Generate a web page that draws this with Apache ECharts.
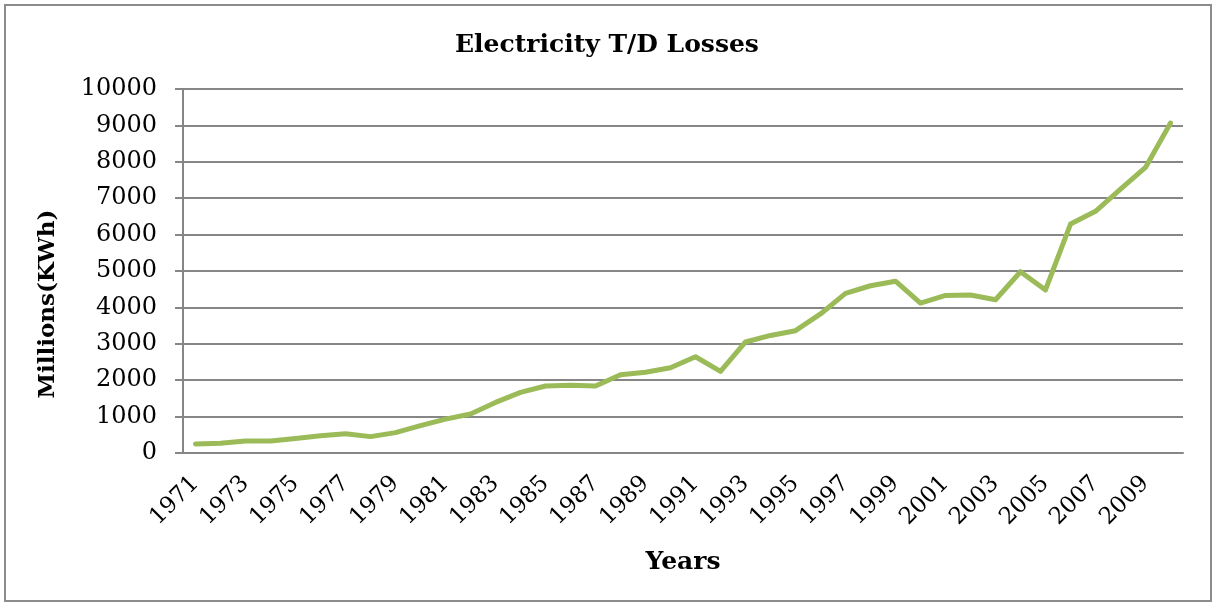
<!DOCTYPE html>
<html>
<head>
<meta charset="utf-8">
<script src="https://cdn.jsdelivr.net/npm/echarts@6/dist/echarts.min.js"></script>
<style>
  html, body { margin: 0; padding: 0; background: #fff; }
  #frame {
    position: absolute; left: 4px; top: 4px;
    width: 1204px; height: 594px;
    border: 2px solid #8c8c8c;
  }
  #losses { position: absolute; left: 0; top: 0; width: 1214px; height: 605px; }
</style>
</head>
<body>
<div id="frame"></div>
<div id="losses"></div>
<script>
  // years on the x axis
  var years = [];
  for (var y = 1971; y <= 2010; y++) years.push(String(y));

  // electricity T/D losses, millions of kWh
  var losses = [
    250, 265, 330, 330, 400, 475, 530, 450, 560, 750,
    930, 1070, 1390, 1665, 1840, 1860, 1840, 2150, 2220, 2340,
    2645, 2240, 3050, 3230, 3360, 3820, 4385, 4595, 4720, 4120,
    4330, 4340, 4210, 4980, 4480, 6290, 6640, 7250, 7845, 9065
  ];

  var serif = 'DejaVu Serif';
  var chart = echarts.init(document.getElementById('losses'));
  var option = {
    backgroundColor: 'transparent',
    animation: false,
    title: {
      text: 'Electricity T/D Losses',
      left: 'center',
      top: 28,
      textStyle: { fontFamily: serif, fontWeight: 'bold', fontSize: 25, color: '#000' }
    },
    // y axis title sits a bit below the plot middle, as in the original
    graphic: [{
      type: 'text',
      x: 48,
      y: 304,
      rotation: Math.PI / 2,
      style: {
        text: 'Millions(KWh)',
        align: 'center',
        verticalAlign: 'middle',
        fontFamily: serif,
        fontWeight: 'bold',
        fontSize: 23,
        fill: '#000'
      }
    }],
    grid: { left: 183, right: 31, top: 89, bottom: 152 },
    xAxis: {
      type: 'category',
      data: years,
      boundaryGap: true,
      name: 'Years',
      nameLocation: 'middle',
      nameGap: 97,
      nameTextStyle: { fontFamily: serif, fontWeight: 'bold', fontSize: 25, color: '#000' },
      axisLine: { lineStyle: { color: '#868686', width: 2 } },
      axisTick: { interval: 0, length: 7, lineStyle: { color: '#868686', width: 2 } },
      axisLabel: {
        interval: 1,
        rotate: 45,
        margin: 27,
        fontFamily: serif,
        fontSize: 23,
        color: '#000'
      }
    },
    yAxis: {
      type: 'value',
      min: 0,
      max: 10000,
      interval: 1000,
      axisLine: { show: true, lineStyle: { color: '#868686', width: 2 } },
      axisTick: { show: true, length: 8, lineStyle: { color: '#868686', width: 2 } },
      axisLabel: {
        margin: 26,
        fontFamily: serif,
        fontSize: 24,
        color: '#000',
        formatter: function (v) { return String(v); }
      },
      splitLine: { lineStyle: { color: '#868686', width: 2 } }
    },
    series: [{
      name: 'Losses',
      type: 'line',
      data: losses,
      symbol: 'none',
      lineStyle: { color: '#9bbb59', width: 5, cap: 'round', join: 'round' }
    }]
  };
  chart.setOption(option);
</script>
</body>
</html>
